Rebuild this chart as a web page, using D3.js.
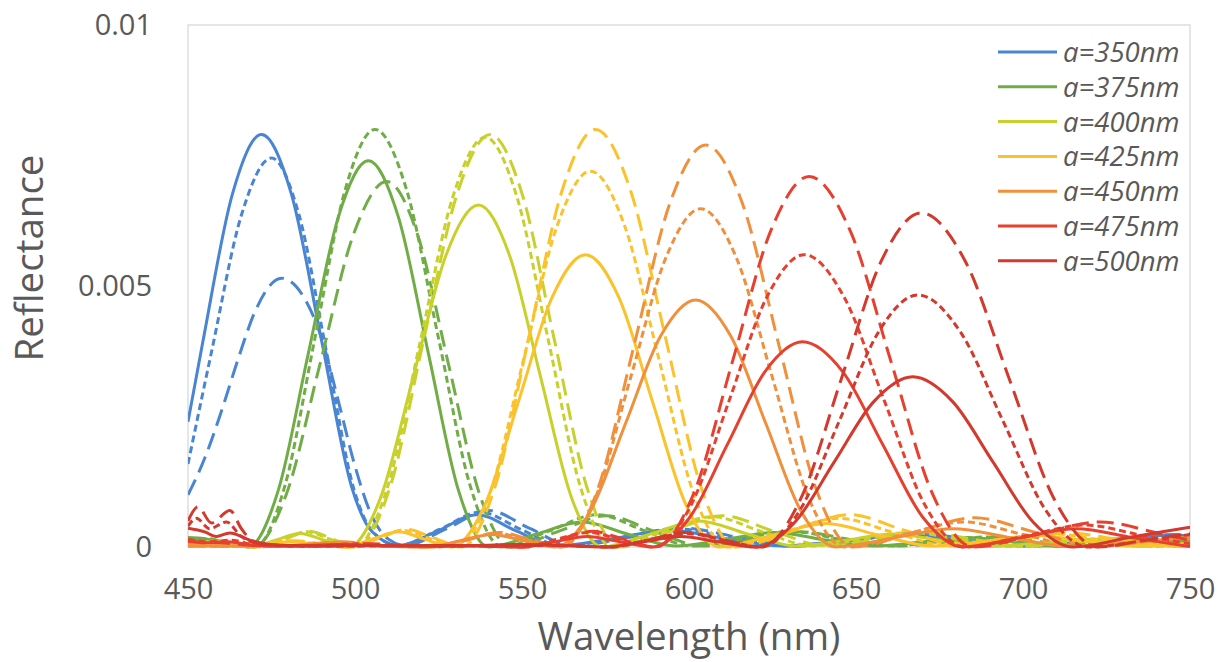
<!DOCTYPE html>
<html><head><meta charset="utf-8">
<script src="https://cdn.jsdelivr.net/npm/d3@7"></script>
<style>
html,body{margin:0;padding:0;background:#fff;}
svg{display:block;font-family:"Open Sans",sans-serif;}
</style></head><body>
<svg id="chart" width="1218" height="662"></svg>
<script>
// Reflectance values are given in units of 1e-4 ; wavelengths in nm.
const REFL_UNIT = 1e-4;

const wavelengthTicks = [450, 500, 550, 600, 650, 700, 750];
const reflectanceTicks = [0, 0.005, 0.01];
const reflectanceTickLabels = ["0", "0.005", "0.01"];
const seriesLabels = ["a=350nm", "a=375nm", "a=400nm", "a=425nm", "a=450nm", "a=475nm", "a=500nm"];
const seriesColors = ["#4a85d2", "#70ad47", "#c8d12b", "#fbc22c", "#f0903c", "#e8402f", "#d3392c"];

// a = 350 nm
const a350Solid = [[450,24],[454.5,39.5],[463.25,67.5],[472,79],[481,67.5],[490,39.5],[499,11.5],[505,3],[513,0.3],[524.75,3.1],[536.5,6.2],[548.25,3.1],[560,0.2],[577,1.6],[594,3.2],[611,1.6],[628,0.2],[646,1.15],[664,2.3],[682,1.15],[700,0.2],[721,1.1],[742,2.2],[750,2.0]];
const a350Short = [[450,15.9],[457,37.25],[466,63.6],[475,74.5],[483.25,63.6],[491.5,37.25],[499.75,10.9],[505,3.2],[513,0.3],[525.25,3.35],[537.5,6.7],[549.75,3.35],[562,0.2],[579,1.75],[596,3.5],[613,1.75],[630,0.2],[648,1.25],[666,2.5],[684,1.25],[702,0.2],[723,1.1],[744,2.3],[750,2.1]];
const a350Long = [[450,10],[455,17],[460,26],[465,36],[470,45],[478,51.5],[485,47.5],[490,40],[495,28],[500,15.5],[505,6],[510,1.5],[515,0.3],[527.5,3.5],[540,7],[552.5,3.5],[565,0.2],[581.75,1.8],[598.5,3.6],[615.25,1.8],[632,0.2],[650,1.3],[668,2.6],[686,1.3],[704,0.2],[725,1.2],[746,2.4],[750,2.3]];

// a = 375 nm
const a375Solid = [[450,1.8],[455,1.6],[462,0.6],[468,0],[477,10.8],[486,37],[495,63.2],[504,74],[513,63.2],[522,37],[531,10.8],[540,0],[554,2.4],[568,4.8],[582,2.4],[596,0.2],[610.75,1.4],[625.5,2.8],[640.25,1.4],[655,0.2],[669,0.9],[683.5,1.8],[698,0.9],[712,0.1],[726,0.6],[740,1.2],[750,1.0]];
const a375Short = [[450,1.5],[456,1.6],[463,0.5],[470,0],[479,11.7],[488,40],[497,68.3],[506,80],[515.5,68.3],[525,40],[534.5,11.7],[544,0],[558.25,3.1],[572.5,6.2],[586.75,3.1],[601,0.2],[615.75,1.5],[630.5,3],[645.25,1.5],[660,0.2],[674,0.95],[688.5,1.9],[703,0.95],[717,0.1],[731,0.6],[745,1.2],[750,1.1]];
const a375Long = [[450,1.2],[458,1.3],[464,0.4],[469.5,0],[479.5,10.2],[489.5,35],[499.5,59.8],[509.5,70],[518.75,59.8],[528,35],[537.25,10.2],[546.5,0],[560.9,3],[575.25,6],[589.6,3],[604,0.2],[618.75,1.45],[633.5,2.9],[648.25,1.45],[663,0.2],[677,0.95],[691.5,1.9],[706,0.95],[720,0.1],[734,0.6],[748,1.2],[750,1.2]];

// a = 400 nm
const a400Solid = [[450,0.8],[458,1.0],[466,0.3],[469,0],[476.25,1.3],[483.5,2.6],[490.75,1.3],[498,0],[507.75,9.6],[517.5,32.75],[527.25,55.9],[537,65.5],[546.25,55.9],[555.5,32.75],[564.75,9.6],[574,0],[588.5,2.5],[603,5],[617.5,2.5],[632,0.2],[646.5,1.25],[661,2.5],[675.5,1.25],[690,0.1],[704.5,0.75],[719,1.5],[733.5,0.75],[748,0.1],[750,0.1]];
const a400Short = [[450,0.8],[458,1.1],[465,0.3],[471,0],[478.25,1.45],[485.5,2.9],[492.75,1.45],[500,0],[509.75,11.5],[519.5,39.25],[529.25,67],[539,78.5],[548.5,67],[558,39.25],[567.5,11.5],[577,0],[592,2.9],[607,5.8],[622,2.9],[637,0.2],[651.75,1.4],[666.5,2.8],[681.25,1.4],[696,0.1],[710.75,0.8],[725.5,1.6],[740.25,0.8],[750,0.3]];
const a400Long = [[450,0.7],[459,1.0],[466,0.3],[472,0],[479.1,1.5],[486.25,3],[493.4,1.5],[500.5,0],[510.5,11.5],[520.5,39.5],[530.5,67.5],[540.5,79],[550.1,67.5],[559.75,39.5],[569.4,11.5],[579,0],[594.5,3],[610,6],[625.5,3],[641,0.2],[655.75,1.45],[670.5,2.9],[685.25,1.45],[700,0.1],[715,0.8],[730,1.6],[745,0.8],[750,0.5]];

// a = 425 nm
const a425Solid = [[450,0.3],[465,0.2],[480,1.0],[490,0.4],[497,0],[505,1.45],[513,2.9],[521,1.45],[529,0],[539,8.2],[549,28],[559,47.8],[569,56],[579,47.8],[589,28],[599,8.2],[609,0],[625,2.25],[641,4.5],[657,2.25],[673,0.2],[688.5,1.1],[704,2.2],[719.5,1.1],[735,0.1],[750,0.6]];
const a425Short = [[450,0.3],[466,0.2],[481,1.1],[491,0.4],[498,0],[506.1,1.6],[514.25,3.2],[522.4,1.6],[530.5,0],[540.5,10.5],[550.5,36],[560.5,61.5],[570.5,72],[580.75,61.5],[591,36],[601.25,10.5],[611.5,0],[628.1,2.75],[644.75,5.5],[661.4,2.75],[678,0.2],[693.5,1.25],[709,2.5],[724.5,1.25],[740,0.1],[750,0.5]];
const a425Long = [[450,0.3],[467,0.2],[482,1.2],[492,0.4],[499,0],[507.25,1.7],[515.5,3.4],[523.75,1.7],[532,0],[542,11.7],[552,40],[562,68.3],[572,80],[582.5,68.3],[593,40],[603.5,11.7],[614,0],[631,3.1],[648,6.2],[665,3.1],[682,0.2],[697.75,1.35],[713.5,2.7],[729.25,1.35],[745,0.1],[750,0.3]];

// a = 450 nm
const a450Solid = [[450,0.2],[478,0.2],[492,0.8],[507,0.2],[522,0],[531.5,1.2],[541,2.4],[550.5,1.2],[560,0],[570.5,6.9],[581,23.65],[591.5,40.4],[602,47.3],[612.5,40.4],[623,23.65],[633.5,6.9],[644,0],[661.5,1.75],[679,3.5],[696.5,1.75],[714,0.1],[731,0.8],[748,1.6],[750,1.6]];
const a450Short = [[450,0.2],[480,0.2],[494,0.9],[509,0.2],[523,0],[532.6,1.3],[542.25,2.6],[551.9,1.3],[561.5,0],[572,9.5],[582.5,32.4],[593,55.3],[603.5,64.8],[614.25,55.3],[625,32.4],[635.75,9.5],[646.5,0],[664.4,2.4],[682.25,4.8],[700.1,2.4],[718,0.1],[734,0.9],[750,1.8]];
const a450Long = [[450,0.2],[482,0.2],[496,1.0],[511,0.2],[525,0],[534,1.4],[543,2.8],[552.5,1.4],[562,0],[572.75,11.2],[583.5,38.5],[594.25,65.8],[605,77],[616,65.8],[627,38.5],[638,11.2],[649,0],[667.25,2.8],[685.5,5.6],[703.75,2.8],[722,0.1],[736,1.0],[750,2.0]];

// a = 475 nm
const a475Solid = [[450,1.2],[455,0.8],[462,1.0],[470,0.3],[480,0.2],[495,0.5],[510,0.2],[530,0.3],[550,0],[559.75,1.0],[569.5,2.0],[579.25,1.0],[589,0],[600.25,5.7],[611.5,19.65],[622.75,33.6],[634,39.3],[646,33.6],[658,19.65],[670,5.7],[682,0],[699,1.75],[716,3.5],[733,1.75],[750,0.1]];
const a475Short = [[450,1.5],[456,1.0],[463,1.3],[471,0.3],[485,0.2],[500,0.6],[515,0.2],[535,0.3],[550,0],[559.9,1.4],[569.75,2.8],[579.6,1.4],[589.5,0],[600.75,8.2],[612,28],[623.25,47.8],[634.5,56],[646.5,47.8],[658.5,28],[670.5,8.2],[682.5,0],[700.5,2.1],[718.5,4.2],[736.5,2.1],[750,0.6]];
const a475Long = [[450,1.0],[460,0.8],[470,0.3],[490,0.2],[505,0.6],[520,0.2],[540,0.3],[552,0],[561.5,1.5],[571,3],[580.5,1.5],[590,0],[601.5,10.4],[613,35.5],[624.5,60.6],[636,71],[648.25,60.6],[660.5,35.5],[672.75,10.4],[685,0],[704,2.4],[723,4.8],[742,2.4],[750,1.3]];

// a = 500 nm
const a500Solid = [[450,3.6],[455,2.9],[458.5,2.0],[462.5,2.7],[469,1.2],[476,0.4],[490,0.2],[510,0.3],[530,0.2],[550,0.5],[560,0.4],[575,0],[586.25,1.0],[597.5,2.0],[608.75,1.0],[620,0],[631.75,4.8],[643.5,16.3],[655.25,27.8],[667,32.6],[679,27.8],[691,16.3],[703,4.8],[715,0],[732.5,1.9],[750,3.8]];
const a500Short = [[450,4.0],[452.5,5.5],[456.5,3.5],[461.5,4.8],[466,2],[470,0.8],[480,0.3],[500,0.2],[520,0.3],[540,0.2],[560,0.4],[576,0],[587.5,1.3],[599,2.6],[610.5,1.3],[621.5,0],[633.25,7.1],[645,24.15],[656.75,41.2],[668.5,48.3],[681.25,41.2],[694,24.15],[706.75,7.1],[719.5,0],[736,1.2],[750,2.4]];
const a500Long = [[450,5.0],[453,7.7],[457,4.6],[462.5,7.0],[466,3.5],[469,1.3],[473,0.5],[485,0.2],[505,0.3],[525,0.2],[545,0.3],[560,0.3],[577,0],[588,1.4],[599,2.8],[610,1.4],[621.5,0],[633.5,9.3],[645.5,32],[657.5,54.7],[669.5,64],[682.75,54.7],[696,32],[709.25,9.3],[722.5,0],[737,1.4],[750,2.6]];

const solidSeries = [a350Solid, a375Solid, a400Solid, a425Solid, a450Solid, a475Solid, a500Solid];
const shortSeries = [a350Short, a375Short, a400Short, a425Short, a450Short, a475Short, a500Short];
const longSeries  = [a350Long, a375Long, a400Long, a425Long, a450Long, a475Long, a500Long];

// ---------- layout ----------
const svg = d3.select("#chart");
const plot = {left: 188, right: 1190, top: 25, bottom: 547};
const x = d3.scaleLinear().domain([450, 750]).range([plot.left, plot.right]);
const y = d3.scaleLinear().domain([0, 0.01]).range([plot.bottom, plot.top]);
const textColor = "#595959";

svg.append("defs").append("clipPath").attr("id", "clip")
  .append("rect").attr("x", plot.left).attr("y", plot.top - 5)
  .attr("width", plot.right - plot.left).attr("height", plot.bottom - plot.top + 7);

// plot frame
svg.append("rect")
  .attr("x", plot.left).attr("y", plot.top)
  .attr("width", plot.right - plot.left).attr("height", plot.bottom - plot.top)
  .attr("fill", "none").attr("stroke", "#d9d9d9").attr("stroke-width", 1.3);

// axes
const xAxis = svg.append("g")
  .attr("transform", `translate(0,${plot.bottom})`)
  .call(d3.axisBottom(x).tickValues(wavelengthTicks).tickSize(0).tickPadding(31).tickFormat(d3.format("d")));
xAxis.select(".domain").remove();
xAxis.selectAll("text").attr("font-size", 29).attr("fill", textColor).attr("font-family", "Open Sans");

const yAxis = svg.append("g")
  .attr("transform", `translate(${plot.left},0)`)
  .call(d3.axisLeft(y).tickValues(reflectanceTicks).tickSize(0).tickPadding(36)
    .tickFormat((d, i) => reflectanceTickLabels[i]));
yAxis.select(".domain").remove();
yAxis.selectAll("text").attr("font-size", 29).attr("fill", textColor).attr("font-family", "Open Sans");

// axis titles
svg.append("text").attr("x", (plot.left + plot.right) / 2).attr("y", 650)
  .attr("text-anchor", "middle").attr("font-size", 38.5).attr("fill", textColor)
  .text("Wavelength (nm)");
svg.append("text").attr("transform", "translate(43,258) rotate(-90)")
  .attr("text-anchor", "middle").attr("font-size", 38.5).attr("fill", textColor)
  .text("Reflectance");

// lines
const line = d3.line()
  .x(d => x(d[0]))
  .y(d => y(d[1] * REFL_UNIT))
  .curve(d3.curveMonotoneX);

const styles = [
  {series: solidSeries, dash: null},
  {series: shortSeries, dash: "7,4"},
  {series: longSeries, dash: "17,8"}
];
const lines = svg.append("g").attr("clip-path", "url(#clip)");
seriesLabels.forEach((lab, i) => {
  styles.forEach(st => {
    lines.append("path")
      .datum(st.series[i])
      .attr("d", line)
      .attr("fill", "none")
      .attr("stroke", seriesColors[i])
      .attr("stroke-width", 3)
      .attr("stroke-dasharray", st.dash)
      .attr("stroke-linejoin", "round");
  });
});

// legend
const legend = svg.append("g");
seriesLabels.forEach((lab, i) => {
  const yy = 52 + i * 34.8;
  legend.append("line").attr("x1", 998).attr("x2", 1057).attr("y1", yy).attr("y2", yy)
    .attr("stroke", seriesColors[i]).attr("stroke-width", 3);
  legend.append("text").attr("x", 1063).attr("y", yy).attr("dy", "0.36em")
    .attr("font-size", 27.5).attr("font-style", "italic").attr("fill", textColor)
    .text(lab);
});
</script>
</body></html>
